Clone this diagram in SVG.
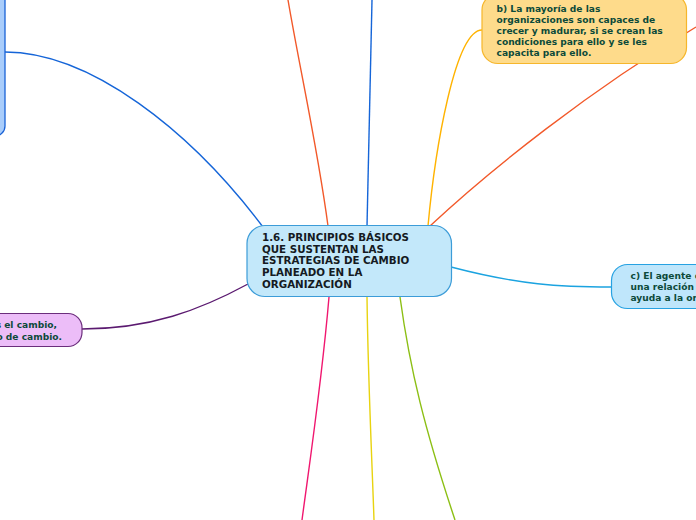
<svg xmlns="http://www.w3.org/2000/svg" width="696" height="520" viewBox="0 0 696 520">
<style>
.c{fill:none;stroke-width:1.4}
.t{font-family:"DejaVu Sans",Verdana,sans-serif;font-weight:bold}
.tc{font-size:10.3px;fill:#151a22}
.ts{font-size:9.1px;fill:#0c4a3a}
</style>
<rect width="696" height="520" fill="#ffffff"/>
<g id="connectors">
<path class="c" stroke="#1565d8" d="M5,52 C90,52 190,130 263,227"/>
<path class="c" stroke="#f2592a" d="M288,0 C300,70 318,150 328,226"/>
<path class="c" stroke="#1565d8" d="M372,0 C370,80 368,160 367,226"/>
<path class="c" stroke="#ffb300" d="M428,226 C435,150 455,30 482,30"/>
<path class="c" stroke="#f2592a" d="M430,226 C490,170 590,90 696,27"/>
<path class="c" stroke="#1ba3e0" d="M451,267 C520,285 560,287 611,287"/>
<path class="c" stroke="#5b1a70" d="M248,284 C200,310 150,329 82,329"/>
<path class="c" stroke="#f0176f" d="M329,297 C322,380 310,460 302,520"/>
<path class="c" stroke="#e8d30f" d="M367,297 C368,380 372,460 374,520"/>
<path class="c" stroke="#8cbf14" d="M400,297 C410,370 425,430 455,520"/>
</g>
<g id="node-left">
<rect x="-200" y="-20" width="205" height="156" rx="10" fill="#a9cdfb" stroke="#1a63d6" stroke-width="1.3"/>
</g>
<g id="node-center">
<rect x="247" y="225.5" width="204.5" height="71" rx="18" fill="#c3e8fa" stroke="#3c9cd8" stroke-width="1.2"/>
<text class="t tc" x="262" y="241">1.6. PRINCIPIOS BÁSICOS</text>
<text class="t tc" x="262" y="252.7">QUE SUSTENTAN LAS</text>
<text class="t tc" x="262" y="264.4">ESTRATEGIAS DE CAMBIO</text>
<text class="t tc" x="262" y="276.1">PLANEADO EN LA</text>
<text class="t tc" x="262" y="287.8">ORGANIZACIÓN</text>
</g>
<g id="node-b">
<rect x="482" y="-6" width="204.5" height="69.5" rx="16" fill="#fedb8b" stroke="#f6b62b" stroke-width="1.2"/>
<text class="t ts" x="496.5" y="11.5">b) La mayoría de las</text>
<text class="t ts" x="496.5" y="22.7">organizaciones son capaces de</text>
<text class="t ts" x="496.5" y="33.9">crecer y madurar, si se crean las</text>
<text class="t ts" x="496.5" y="45.1">condiciones para ello y se les</text>
<text class="t ts" x="496.5" y="56.3">capacita para ello.</text>
</g>
<g id="node-c">
<rect x="611.5" y="264.5" width="200" height="44" rx="16" fill="#bfe6fb" stroke="#27a2e2" stroke-width="1.2"/>
<text class="t ts" x="630.5" y="278.5">c) El agente de cambio</text>
<text class="t ts" x="630.5" y="289.7">una relación de</text>
<text class="t ts" x="630.5" y="300.9">ayuda a la organización</text>
</g>
<g id="node-purple">
<rect x="-150" y="313.5" width="232" height="33" rx="14" fill="#ecbdf8" stroke="#6b2d7c" stroke-width="1.2"/>
<text class="t ts" x="57" y="328.3" text-anchor="end">s el cambio,</text>
<text class="t ts" x="62" y="339.8" text-anchor="end">o de cambio.</text>
</g>
</svg>
